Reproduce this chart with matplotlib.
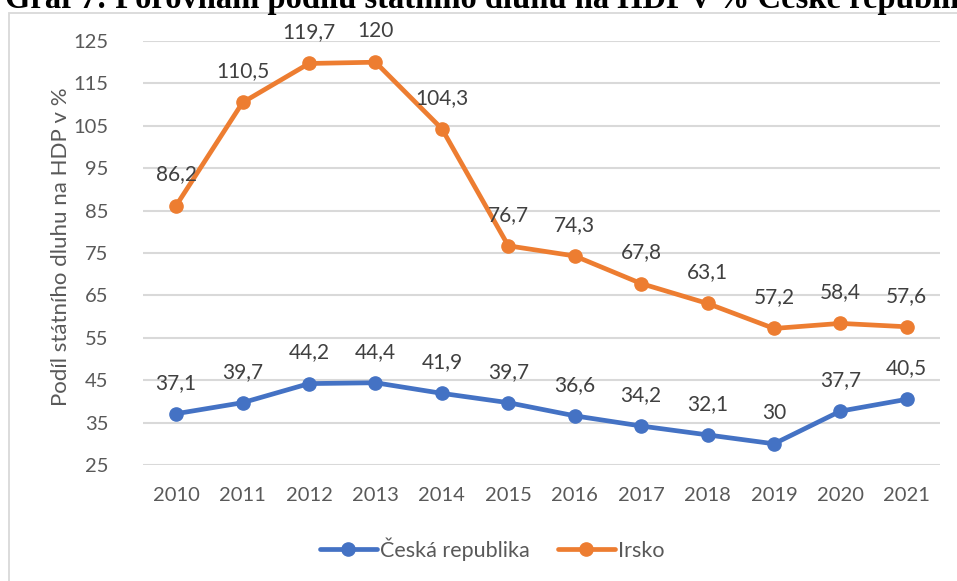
import matplotlib
matplotlib.use("Agg")
import matplotlib.pyplot as plt
from matplotlib.patches import Rectangle

years = ["2010", "2011", "2012", "2013", "2014", "2015", "2016", "2017", "2018", "2019", "2020", "2021"]
cz = [37.1, 39.7, 44.2, 44.4, 41.9, 39.7, 36.6, 34.2, 32.1, 30, 37.7, 40.5]
ie = [86.2, 110.5, 119.7, 120, 104.3, 76.7, 74.3, 67.8, 63.1, 57.2, 58.4, 57.6]
series_names = ["Česká republika", "Irsko"]
yticks = [25, 35, 45, 55, 65, 75, 85, 95, 105, 115, 125]
title = "Graf 7: Porovnání podílu státního dluhu na HDP v % České republiky a Irska"
ylabel = "Podíl státního dluhu na HDP v %"

W, H = 957, 581
fig = plt.figure(figsize=(W / 100, H / 100), dpi=100)
FONT = "Lato"
GRAY = "#595959"
BLUE = "#4472C4"
ORANGE = "#ED7D31"

# chart border
fig.patches.append(Rectangle((9 / W, -0.1), 1.2, (H - 13) / H + 0.1, transform=fig.transFigure,
                             fill=False, edgecolor="#D9D9D9", linewidth=1.3))

# caption above (clipped by the image edge, as in the reference)
fig.text(5 / W, (H - 8) / H, title, family="Liberation Serif", fontweight="bold",
         fontsize=23.5, va="baseline", ha="left", color="black")

left, right = 143 / W, 940 / W
bottom, top = (H - 465) / H, (H - 41) / H
ax = fig.add_axes([left, bottom, right - left, top - bottom])

x = list(range(len(years)))


def fmt(v):
    s = ("%g" % v)
    return s.replace(".", ",")


for vals, col, name in [(cz, BLUE, series_names[0]), (ie, ORANGE, series_names[1])]:
    ax.plot(x, vals, color=col, lw=3.4, marker="o", markersize=9.5, label=name,
            solid_capstyle="round", zorder=3)
    for xi, v in zip(x, vals):
        ax.annotate(fmt(v), (xi, v), xytext=(0, 31), textcoords="offset pixels",
                    ha="center", va="center", fontsize=15, family=FONT, color="#404040", zorder=4)

ax.set_xlim(-0.5, len(years) - 0.5)
ax.set_ylim(25, 125)
ax.set_yticks(yticks)
ax.set_xticks(x)
ax.set_xticklabels(years)
ax.grid(axis="y", color="#D9D9D9", lw=1.5)
ax.set_axisbelow(True)
for s in ax.spines.values():
    s.set_visible(False)
ax.tick_params(length=0, labelsize=14.5, labelcolor=GRAY)
ax.tick_params(axis="y", pad=25)
ax.tick_params(axis="x", pad=16)
for lab in ax.get_xticklabels() + ax.get_yticklabels():
    lab.set_family(FONT)

fig.text(61 / W, (H - 247) / H, ylabel, rotation=90, ha="center", va="center",
         rotation_mode="anchor", fontsize=16, family=FONT, color=GRAY)

leg = fig.legend(loc="center", bbox_to_anchor=(492 / W, (H - 549) / H), ncol=2, frameon=False,
                 prop={"family": FONT, "size": 15.5}, handlelength=2.65, handletextpad=0.15,
                 columnspacing=1.3, labelcolor=GRAY)

fig.savefig("out.png", dpi=100)
